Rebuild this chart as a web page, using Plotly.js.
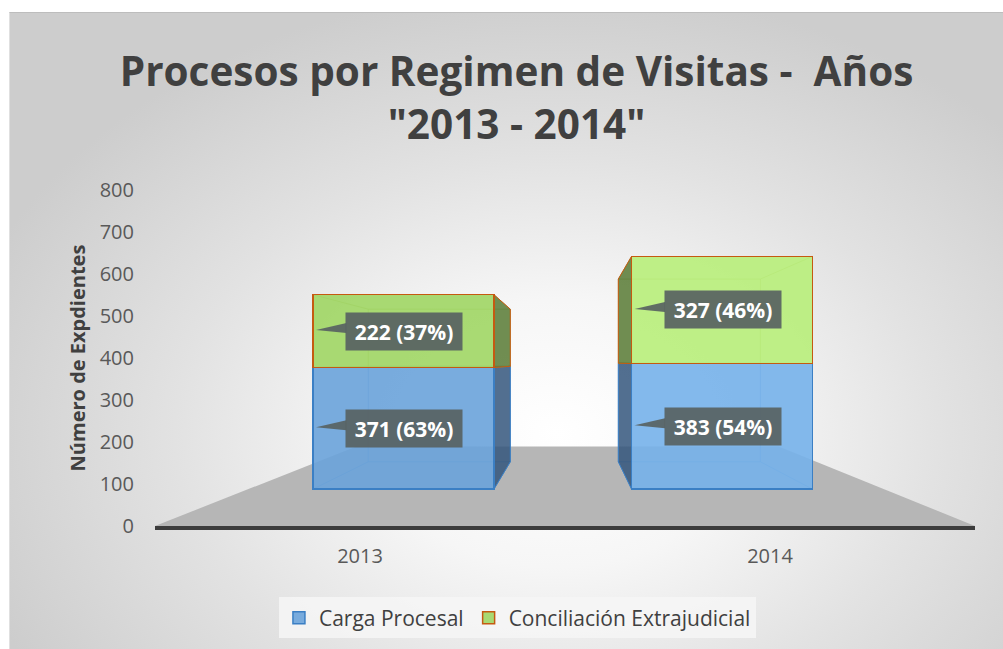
<!DOCTYPE html>
<html>
<head>
<meta charset="utf-8">
<script src="https://cdn.plot.ly/plotly-3.0.1.min.js"></script>
<style>
  html, body { margin: 0; padding: 0; background: #ffffff; }
  #wrap { position: relative; width: 1003px; height: 649px; overflow: hidden; }
  #bg { position: absolute; left: 9px; top: 12px; width: 994px; height: 637px;
        border-top: 1px solid #bdbdbd; border-left: 1px solid #e0e0e0;
        background: radial-gradient(ellipse 62% 70% at 55% 66%, #ffffff 0%, #f6f6f6 30%, #e2e2e2 62%, #cdcdcd 100%); }
  #chart { position: absolute; left: 0; top: 0; width: 1003px; height: 649px; }
</style>
</head>
<body>
<div id="wrap"><div id="bg"></div><div id="chart"></div></div>
<script>
// ---- data ----
const years = ['2013', '2014'];
const cargaProcesal = [371, 383];
const conciliacion = [222, 327];
const seriesNames = ['Carga Procesal', 'Conciliación Extrajudicial'];
const yTickVals = [0, 100, 200, 300, 400, 500, 600, 700, 800];

// ---- style ----
const FONT = 'Open Sans, Calibri, sans-serif';
const blueFill = ['rgba(106,163,218,0.9)', 'rgba(118,177,234,0.9)'];
const greenFill = ['rgba(160,214,100,0.9)', 'rgba(184,238,122,0.9)'];
const blueLine = '#3b7fc4';
const greenLine = '#c55a11';
const blueSide = 'rgba(52,86,125,0.85)';
const greenSide = 'rgba(88,122,52,0.85)';
const labelBg = 'rgba(88,98,98,0.92)';
const VP = {x: 415, y: 172};   // perspective vanishing point (plot-area px)
const DEPTH = 0.785;           // back-face scale

const totals = years.map((_, i) => cargaProcesal[i] + conciliacion[i]);
const pct = (v, t) => Math.round(v / t * 100);

const traces = [
  { type: 'scatter', mode: 'none', x: years, y: [0, 0], xaxis: 'x', yaxis: 'y',
    showlegend: false, hoverinfo: 'skip' },
  { type: 'bar', name: seriesNames[0], x: years, y: cargaProcesal, xaxis: 'x2', yaxis: 'y2',
    width: 0.568, marker: {color: blueFill, line: {color: blueLine, width: 1.5}} },
  { type: 'bar', name: seriesNames[1], x: years, y: conciliacion, xaxis: 'x2', yaxis: 'y2',
    width: 0.568, marker: {color: greenFill, line: {color: greenLine, width: 1.5}} }
];

const annotations = [];
years.forEach((yr, i) => {
  annotations.push({ xref: 'x2', yref: 'y2', x: i, y: cargaProcesal[i] / 2,
    text: cargaProcesal[i] + ' (' + pct(cargaProcesal[i], totals[i]) + '%)' });
  annotations.push({ xref: 'x2', yref: 'y2', x: i, y: cargaProcesal[i] + conciliacion[i] / 2,
    text: conciliacion[i] + ' (' + pct(conciliacion[i], totals[i]) + '%)' });
});
annotations.forEach(a => Object.assign(a, {
  showarrow: false, xanchor: 'center', yanchor: 'middle', xshift: 1,
  width: 110, height: 31, borderpad: 3, bgcolor: labelBg,
  font: {family: FONT, size: 21, color: '#ffffff', weight: 700}
}));

const layout = {
  width: 1003, height: 649,
  margin: {l: 155, r: 28, t: 190, b: 122},
  paper_bgcolor: 'rgba(0,0,0,0)', plot_bgcolor: 'rgba(0,0,0,0)',
  barmode: 'stack',
  title: { text: 'Procesos por Regimen de Visitas -  Años<br>"2013 - 2014"',
    x: 0.515, xanchor: 'center', y: 0.867, yanchor: 'middle',
    font: {family: FONT, size: 40.5, color: '#404040', weight: 700} },
  xaxis: { type: 'category', categoryarray: years, range: [-0.5, 1.5], fixedrange: true,
    showgrid: false, zeroline: false, showline: true, linecolor: '#3c3c3c', linewidth: 4,
    ticks: '', ticklabelstandoff: 9, tickfont: {family: FONT, size: 20, color: '#595959'} },
  yaxis: { range: [0, 800], tickvals: yTickVals, showgrid: false, zeroline: false, fixedrange: true,
    ticks: '', ticklabelstandoff: 20, tickfont: {family: FONT, size: 20, color: '#595959'},
    title: {text: 'Número de Expdientes', standoff: 8,
      font: {family: FONT, size: 20, color: '#404040', weight: 700}} },
  xaxis2: { type: 'category', overlaying: 'x', range: [-0.780, 1.794], visible: false, fixedrange: true },
  yaxis2: { overlaying: 'y', range: [-112.5, 912.4], visible: false, fixedrange: true },
  legend: { orientation: 'h', x: 0.442, xanchor: 'center', y: -0.27, yanchor: 'middle',
    bgcolor: 'rgba(246,246,246,0.85)', borderwidth: 0,
    font: {family: FONT, size: 21, color: '#404040'}, itemwidth: 30,
    traceorder: 'normal' },
  annotations: annotations,
  showlegend: true
};

Plotly.newPlot('chart', traces, layout, {displayModeBar: false, staticPlot: true}).then(gd => {
  const fl = gd._fullLayout;
  const xa = fl.xaxis2, ya = fl.yaxis2;
  const W = xa._length, H = ya._length;
  const toPaper = p => [p[0] / W, 1 - p[1] / H];
  const back = p => [VP.x + (p[0] - VP.x) * DEPTH, VP.y + (p[1] - VP.y) * DEPTH];
  const path = pts => 'M' + pts.map(p => toPaper(p).join(',')).join('L') + 'Z';
  const line = (a, b) => 'M' + toPaper(a).join(',') + 'L' + toPaper(b).join(',');
  const shapes = [];
  // floor
  const axisY = fl.yaxis.l2p(0);
  const fl0 = [0, axisY], fl1 = [W, axisY];
  const kF = 0.515;
  const fb0 = [VP.x + (0 - VP.x) * kF, VP.y + (axisY - VP.y) * kF];
  const fb1 = [VP.x + (W - VP.x) * kF, VP.y + (axisY - VP.y) * kF];
  shapes.push({type: 'path', xref: 'paper', yref: 'paper', layer: 'below',
    path: path([fl0, fl1, fb1, fb0]), fillcolor: '#b6b6b6', line: {width: 0}});

  const half = 0.568 / 2;
  years.forEach((yr, i) => {
    const xl = xa.l2p(i - half), xr = xa.l2p(i + half);
    const segs = [
      {y0: 0, y1: cargaProcesal[i], side: blueSide, edge: blueLine},
      {y0: cargaProcesal[i], y1: cargaProcesal[i] + conciliacion[i], side: greenSide, edge: greenLine}
    ];
    segs.forEach(s => {
      const yb = ya.l2p(s.y0), yt = ya.l2p(s.y1);
      const F = {lb: [xl, yb], rb: [xr, yb], rt: [xr, yt], lt: [xl, yt]};
      const B = {lb: back(F.lb), rb: back(F.rb), rt: back(F.rt), lt: back(F.lt)};
      const faint = {color: s.edge === blueLine ? 'rgba(59,127,196,0.55)' : 'rgba(150,160,60,0.6)', width: 1};
      shapes.push({type: 'path', xref: 'paper', yref: 'paper', layer: 'below',
        path: path([B.lb, B.rb, B.rt, B.lt]), fillcolor: 'rgba(0,0,0,0)', line: faint});
      ['lb', 'rb', 'rt', 'lt'].forEach(k => shapes.push({type: 'path', xref: 'paper', yref: 'paper',
        layer: 'below', path: line(F[k], B[k]), line: faint}));
      const useRight = xr < VP.x;
      const a = useRight ? F.rb : F.lb, b = useRight ? F.rt : F.lt;
      shapes.push({type: 'path', xref: 'paper', yref: 'paper', layer: 'below',
        path: path([a, b, back(b), back(a)]), fillcolor: s.side,
        line: {color: s.edge, width: 1}});
    });
    const cx = xa.l2p(i) + 1;
    [cargaProcesal[i] / 2, cargaProcesal[i] + conciliacion[i] / 2].forEach(v => {
      const cy = ya.l2p(v);
      const boxL = cx - 58;
      shapes.push({type: 'path', xref: 'paper', yref: 'paper', layer: 'above',
        path: path([[xl + 3, cy - 1], [boxL, cy - 8], [boxL, cy + 2]]),
        fillcolor: labelBg, line: {width: 0}});
    });
  });
  return Plotly.relayout(gd, {shapes: shapes});
});
</script>
</body>
</html>
